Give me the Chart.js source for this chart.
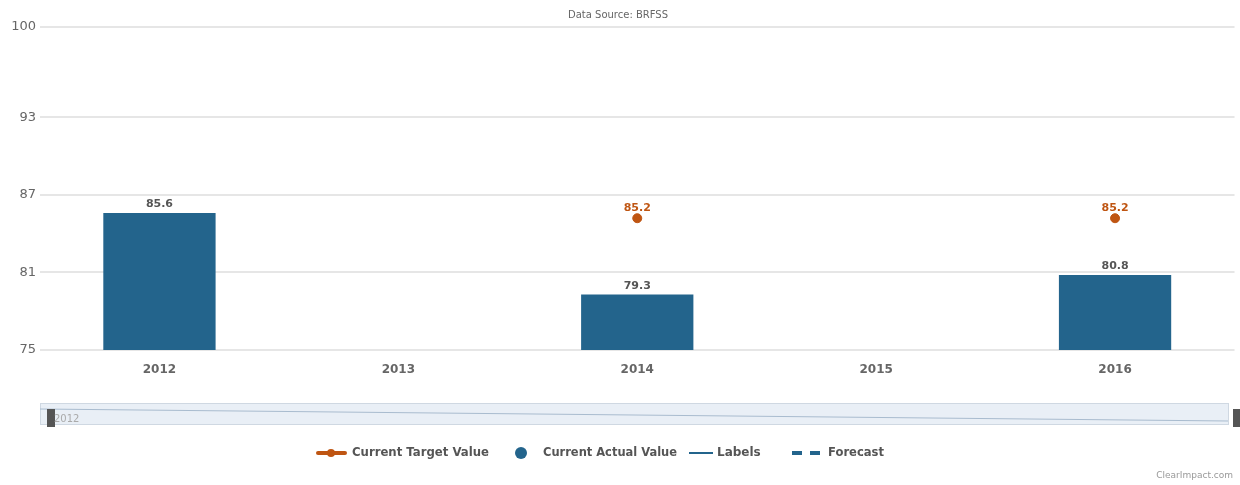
<!DOCTYPE html>
<html>
<head>
<meta charset="utf-8">
<script src="https://cdn.jsdelivr.net/npm/chart.js@4"></script>
<style>
  html, body { margin: 0; padding: 0; background: #fff; }
  #wrap { width: 1240px; height: 485px; }
</style>
</head>
<body>
<div id="wrap"><canvas id="chart" width="1240" height="485"></canvas></div>
<script>
// Data
const years = ['2012', '2013', '2014', '2015', '2016'];
const actualValues = [85.6, null, 79.3, null, 80.8];
const targetValues = [null, null, 85.2, null, 85.2];
const yTicks = [75, 81, 87, 93, 100];

const barColor = '#23648c';
const targetColor = '#bf5512';
const textGray = '#666666';

// Value labels above the marks
const valueLabels = {
  id: 'valueLabels',
  afterDatasetsDraw(chart) {
    const ctx = chart.ctx;
    ctx.save();
    ctx.textAlign = 'center';
    ctx.textBaseline = 'bottom';
    ctx.font = 'bold 11px "DejaVu Sans", sans-serif';
    chart.data.datasets.forEach((ds, i) => {
      const meta = chart.getDatasetMeta(i);
      meta.data.forEach((el, j) => {
        const v = ds.data[j];
        if (v === null || v === undefined) return;
        if (ds.type === 'line') {
          ctx.fillStyle = targetColor;
          ctx.fillText(v.toFixed(1), el.x, el.y - 5);
        } else {
          ctx.fillStyle = '#555555';
          ctx.fillText(v.toFixed(1), el.x, el.y - 3);
        }
      });
    });
    ctx.restore();
  }
};

// Navigator strip, legend and credits under the plot
const extras = {
  id: 'extras',
  afterDraw(chart) {
    const ctx = chart.ctx;
    const area = chart.chartArea;
    ctx.save();

    // navigator
    const nx = area.left, ny = 403, nw = 1188, nh = 21;
    ctx.fillStyle = '#e9eff6';
    ctx.fillRect(nx, ny, nw, nh);
    ctx.strokeStyle = '#cfd8e2';
    ctx.lineWidth = 1;
    ctx.strokeRect(nx + 0.5, ny + 0.5, nw, nh);
    ctx.strokeStyle = '#a9bccf';
    ctx.beginPath();
    ctx.moveTo(nx, ny + 6);
    ctx.lineTo(nx + nw, ny + 18);
    ctx.stroke();
    ctx.fillStyle = '#555';
    ctx.fillRect(nx + 7, ny + 6, 8, 18);
    ctx.fillRect(1233, ny + 6, 7, 18);
    ctx.fillStyle = '#aaa';
    ctx.font = '10px "DejaVu Sans", sans-serif';
    ctx.textBaseline = 'middle';
    ctx.fillText('2012', nx + 14, ny + 16);

    // legend
    const ly = 453;
    ctx.font = 'bold 12px "DejaVu Sans", sans-serif';
    ctx.textBaseline = 'middle';
    // Current Target Value
    ctx.strokeStyle = targetColor;
    ctx.lineWidth = 4;
    ctx.lineCap = 'round';
    ctx.beginPath(); ctx.moveTo(318, ly); ctx.lineTo(345, ly); ctx.stroke();
    ctx.fillStyle = targetColor;
    ctx.beginPath(); ctx.arc(331, ly, 4, 0, Math.PI * 2); ctx.fill();
    ctx.fillStyle = '#555555';
    ctx.fillText('Current Target Value', 352, ly, 137);
    // Current Actual Value
    ctx.fillStyle = barColor;
    ctx.beginPath(); ctx.arc(521, ly, 6, 0, Math.PI * 2); ctx.fill();
    ctx.fillStyle = '#555555';
    ctx.fillText('Current Actual Value', 543, ly, 134);
    // Labels
    ctx.strokeStyle = barColor;
    ctx.lineWidth = 2;
    ctx.lineCap = 'butt';
    ctx.beginPath(); ctx.moveTo(689, ly); ctx.lineTo(713, ly); ctx.stroke();
    ctx.fillText('Labels', 717, ly, 56);
    // Forecast
    ctx.lineWidth = 4;
    ctx.beginPath(); ctx.moveTo(792, ly); ctx.lineTo(802, ly); ctx.moveTo(810, ly); ctx.lineTo(820, ly); ctx.stroke();
    ctx.fillText('Forecast', 828, ly, 56);

    // credits
    ctx.font = '9px "DejaVu Sans", sans-serif';
    ctx.fillStyle = '#999999';
    ctx.textAlign = 'right';
    ctx.fillText('ClearImpact.com', 1233, 476);
    ctx.restore();
  }
};

new Chart(document.getElementById('chart'), {
  data: {
    labels: years,
    datasets: [{
      type: 'line',
      label: 'Current Target Value',
      data: targetValues,
      showLine: false,
      pointRadius: 4.5,
      pointBackgroundColor: targetColor,
      pointBorderColor: targetColor,
      order: 0
    }, {
      type: 'bar',
      label: 'Current Actual Value',
      data: actualValues,
      backgroundColor: barColor,
      categoryPercentage: 1,
      barPercentage: 0.47,
      order: 1
    }]
  },
  options: {
    responsive: false,
    animation: false,
    layout: { padding: { left: 0, right: 4, top: 0, bottom: 100 } },
    plugins: {
      legend: { display: false },
      tooltip: { enabled: false },
      title: {
        display: true,
        text: 'Data Source: BRFSS',
        color: textGray,
        font: { size: 10, family: '"DejaVu Sans", sans-serif', weight: 'normal' },
        padding: { top: 9, bottom: 6 }
      }
    },
    scales: {
      y: {
        min: 75,
        max: 100,
        afterBuildTicks: scale => { scale.ticks = yTicks.map(v => ({ value: v })); },
        afterFit: scale => { scale.width = 40; },
        ticks: {
          color: textGray,
          font: { size: 13, family: '"DejaVu Sans", sans-serif' },
          padding: 4
        },
        grid: { color: '#e6e6e6', lineWidth: 2, drawTicks: false },
        border: { display: false }
      },
      x: {
        afterFit: scale => { scale.height = 35; },
        ticks: {
          color: textGray,
          font: { size: 12, weight: 'bold', family: '"DejaVu Sans", sans-serif' },
          padding: 5
        },
        grid: { display: false },
        border: { display: false }
      }
    }
  },
  plugins: [valueLabels, extras]
});
</script>
</body>
</html>
